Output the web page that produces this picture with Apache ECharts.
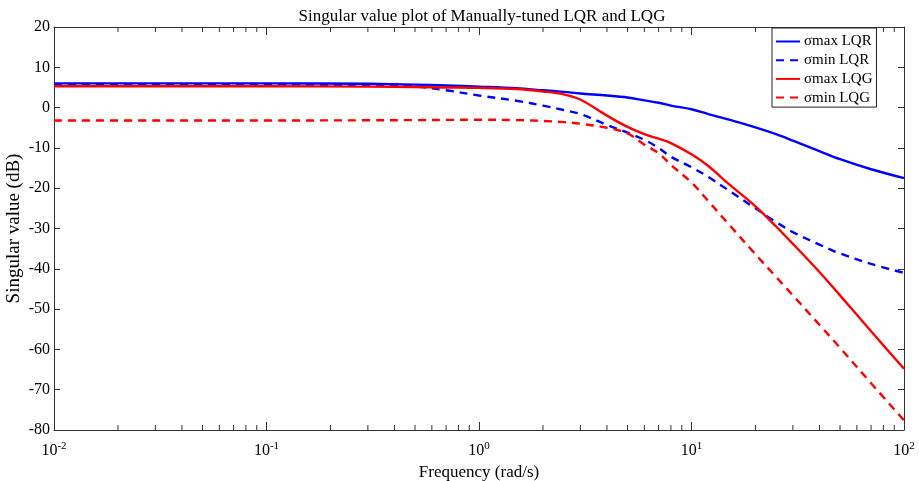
<!DOCTYPE html>
<html><head><meta charset="utf-8">
<script src="https://cdn.jsdelivr.net/npm/echarts@6/dist/echarts.min.js"></script>
<style>html,body{margin:0;padding:0;background:#fff}#c{width:919px;height:481px}</style>
</head><body><div id="c"></div>
<script>
// Frequency points (rad/s)
const freq = [0.01, 0.03, 0.1, 0.3, 0.5, 0.7, 1, 1.5, 2, 2.5, 3, 4, 5, 6, 7, 8, 10, 12, 15, 20, 25, 30, 40, 50, 70, 100];
// Singular values (dB)
const sMaxLQR = [6.0, 6.0, 6.0, 5.9, 5.7, 5.5, 5.2, 4.8, 4.3, 3.9, 3.5, 3.0, 2.5, 1.8, 1.2, 0.5, -0.4, -1.6, -3.0, -4.9, -6.6, -8.2, -10.8, -12.8, -15.3, -17.5];
const sMinLQR = [5.7, 5.7, 5.7, 5.6, 5.2, 4.3, 3.0, 1.7, 0.5, -0.6, -1.6, -4.3, -6.2, -8.0, -10.0, -12.2, -14.8, -17.2, -20.6, -25.0, -28.4, -30.9, -34.0, -36.2, -38.8, -41.0];
const sMaxLQG = [5.3, 5.3, 5.3, 5.2, 5.1, 5.0, 4.9, 4.6, 4.0, 3.3, 2.0, -2.0, -4.8, -6.6, -7.7, -8.8, -11.6, -14.5, -19.0, -24.5, -29.5, -33.8, -40.8, -46.6, -55.5, -64.8];
const sMinLQG = [-3.2, -3.2, -3.2, -3.15, -3.1, -3.05, -3.0, -3.1, -3.3, -3.6, -4.0, -5.0, -6.4, -9.2, -11.3, -14.2, -18.6, -23.2, -29.0, -36.4, -42.0, -46.6, -53.9, -59.6, -68.4, -77.6];
const seriesNames = ['σmax LQR', 'σmin LQR', 'σmax LQG', 'σmin LQG'];
const yTicks = [20, 10, 0, -10, -20, -30, -40, -50, -60, -70, -80];

// minor tick positions for the log axis (2..9 x 10^k)
const minorTicks = [];
for (let k = -2; k < 2; k++) for (let m = 2; m <= 9; m++) minorTicks.push([m * Math.pow(10, k)]);

const pair = arr => freq.map((f, i) => [f, arr[i]]);
const FONT = '"Liberation Serif", "Times New Roman", serif';
const AX = '#333';

const chart = echarts.init(document.getElementById('c'));
const lineSeries = (name, arr, color, dashed) => ({
  name, type: 'line', data: pair(arr), xAxisIndex: 0, yAxisIndex: 0,
  showSymbol: false, symbol: 'none', smooth: 0.35, z: 3,
  lineStyle: { color, width: 2.4, type: dashed ? [8, 6] : 'solid' },
  itemStyle: { color }
});

chart.setOption({
  animation: false,
  backgroundColor: '#fff',
  title: {
    text: 'Singular value plot of Manually-tuned LQR and LQG',
    left: 477, textAlign: 'center', top: 3,
    textStyle: { fontFamily: FONT, fontSize: 17, fontWeight: 'normal', color: '#000' }
  },
  legend: {
    data: seriesNames, orient: 'vertical', left: 772, top: 28,
    padding: [6, 4, 2, 3], itemGap: 3.7, itemWidth: 24, itemHeight: 14,
    borderColor: '#222', borderWidth: 1, backgroundColor: '#fff', borderRadius: 0,
    itemStyle: { opacity: 0 },
    textStyle: { fontFamily: FONT, fontSize: 15, color: '#000', padding: [0, 0, 0, -1] }
  },
  grid: { left: 54, right: 15, top: 27, bottom: 51, containLabel: false, outerBoundsMode: 'none' },
  xAxis: [{
    type: 'log', logBase: 10, min: 0.01, max: 100, position: 'bottom',
    name: 'Frequency (rad/s)', nameLocation: 'middle', nameGap: 30,
    nameTextStyle: { fontFamily: FONT, fontSize: 17, color: '#000' },
    axisLine: { onZero: false, lineStyle: { color: AX, width: 1 } },
    axisTick: { inside: true, length: 8, lineStyle: { color: AX } },
    splitLine: { show: false },
    axisLabel: {
      margin: 11, color: '#000', fontFamily: FONT,
      formatter: v => '{b|10}{s|' + Math.round(Math.log10(v)) + '}',
      rich: {
        b: { fontFamily: FONT, fontSize: 16, color: '#000' },
        s: { fontFamily: FONT, fontSize: 11, color: '#000', padding: [0, 0, 9, 0] }
      }
    }
  }, {
    type: 'log', logBase: 10, min: 0.01, max: 100, position: 'top',
    axisLine: { onZero: false, lineStyle: { color: AX, width: 1 } },
    axisTick: { inside: true, length: 8, lineStyle: { color: AX } },
    axisLabel: { show: false }, splitLine: { show: false }
  }],
  yAxis: [{
    type: 'value', min: -80, max: 20, interval: 10, position: 'left',
    name: 'Singular value (dB)', nameLocation: 'middle', nameGap: 30, nameMoveOverlap: false,
    nameTextStyle: { fontFamily: FONT, fontSize: 19, color: '#000' },
    axisLine: { show: true, onZero: false, lineStyle: { color: AX, width: 1 } },
    axisTick: { show: true, inside: true, length: 6, lineStyle: { color: AX } },
    splitLine: { show: false },
    axisLabel: { margin: 4, fontFamily: FONT, fontSize: 16, color: '#000' }
  }, {
    type: 'value', min: -80, max: 20, interval: 10, position: 'right',
    axisLine: { show: true, onZero: false, lineStyle: { color: AX, width: 1 } },
    axisTick: { show: true, inside: true, length: 6, lineStyle: { color: AX } },
    splitLine: { show: false }, axisLabel: { show: false }
  }],
  series: [
    lineSeries(seriesNames[0], sMaxLQR, '#0000ff', false),
    lineSeries(seriesNames[1], sMinLQR, '#0000ff', true),
    lineSeries(seriesNames[2], sMaxLQG, '#ff0000', false),
    lineSeries(seriesNames[3], sMinLQG, '#ff0000', true),
    {
      type: 'custom', name: 'minor', xAxisIndex: 0, yAxisIndex: 0, silent: true, clip: false,
      data: minorTicks, encode: { x: 0 },
      renderItem: (params, api) => {
        const b = api.coord([api.value(0), -80]);
        const t = api.coord([api.value(0), 20]);
        const st = { stroke: AX, lineWidth: 1 };
        return { type: 'group', children: [
          { type: 'line', shape: { x1: b[0], y1: b[1], x2: b[0], y2: b[1] - 5 }, style: st },
          { type: 'line', shape: { x1: t[0], y1: t[1], x2: t[0], y2: t[1] + 5 }, style: st }
        ] };
      }
    }
  ]
});
</script></body></html>
